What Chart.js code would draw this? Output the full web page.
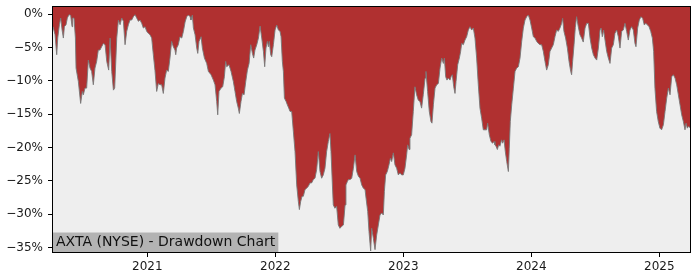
<!DOCTYPE html>
<html>
<head>
<meta charset="utf-8">
<script src="https://cdn.jsdelivr.net/npm/chart.js@4"></script>
<style>
html,body{margin:0;padding:0;background:#fff;}
canvas{display:block;}
</style>
</head>
<body>
<canvas id="c" width="700" height="280"></canvas>
<script>
// Dates as decimal years
const dates = [
2020.263,2020.279,2020.292,2020.300,2020.313,2020.323,2020.334,2020.344,2020.352,2020.365,
2020.375,2020.388,2020.401,2020.412,2020.417,2020.427,2020.438,2020.443,2020.461,2020.479,
2020.492,2020.500,2020.513,2020.526,2020.539,2020.552,2020.565,2020.578,2020.591,2020.604,
2020.617,2020.630,2020.643,2020.657,2020.670,2020.683,2020.698,2020.709,2020.722,2020.735,
2020.745,2020.761,2020.774,2020.787,2020.800,2020.813,2020.826,2020.839,2020.852,2020.865,
2020.878,2020.891,2020.904,2020.917,2020.930,2020.943,2020.956,2020.969,2020.982,2020.995,
2021.008,2021.021,2021.034,2021.047,
2021.060,2021.073,2021.086,2021.099,2021.112,2021.125,2021.138,2021.151,2021.164,2021.177,
2021.190,2021.203,2021.216,2021.222,2021.229,2021.242,2021.255,2021.269,2021.282,2021.295,
2021.308,2021.321,2021.334,2021.341,2021.352,2021.360,2021.373,2021.386,2021.394,2021.404,
2021.420,2021.430,2021.446,2021.464,2021.477,2021.498,2021.516,2021.529,2021.542,2021.550,
2021.560,2021.576,2021.589,2021.602,2021.612,2021.620,2021.638,2021.654,2021.672,2021.685,
2021.698,2021.711,2021.719,2021.732,2021.743,2021.756,2021.769,2021.782,2021.795,2021.808,
2021.821,2021.831,2021.841,2021.855,2021.868,2021.881,
2021.894,2021.907,2021.917,2021.927,2021.938,2021.946,2021.953,2021.964,2021.972,2021.985,
2021.998,2022.011,2022.024,2022.037,2022.045,2022.055,2022.063,2022.071,2022.084,2022.094,
2022.105,2022.115,2022.128,2022.141,2022.154,2022.167,2022.180,2022.188,2022.198,2022.209,
2022.219,2022.232,2022.245,2022.258,2022.271,2022.284,2022.297,2022.310,2022.323,2022.336,
2022.349,2022.362,2022.375,2022.388,2022.401,2022.414,2022.427,2022.435,2022.446,2022.453,
2022.466,2022.479,2022.492,2022.505,2022.519,2022.532,2022.545,2022.552,2022.563,2022.571,
2022.584,2022.597,2022.610,2022.623,2022.636,2022.649,2022.662,2022.675,2022.688,2022.701,
2022.709,2022.722,2022.732,2022.745,2022.753,2022.766,2022.779,2022.792,2022.805,2022.818,
2022.831,2022.844,2022.852,2022.862,2022.875,2022.888,2022.899,2022.909,2022.922,2022.935,
2022.948,2022.961,2022.974,2022.987,2023.000,2023.013,2023.026,2023.034,2023.045,2023.052,
2023.065,2023.078,2023.091,2023.104,2023.117,2023.130,2023.143,2023.156,2023.170,2023.177,
2023.190,2023.203,2023.216,2023.224,2023.235,2023.248,2023.261,2023.274,2023.287,2023.300,
2023.313,2023.321,2023.331,2023.341,2023.352,2023.365,2023.373,2023.383,2023.394,2023.404,
2023.412,2023.425,2023.438,2023.448,2023.456,2023.469,2023.482,2023.495,2023.508,
2023.521,2023.534,2023.547,2023.560,2023.573,2023.586,2023.599,2023.612,2023.625,2023.638,
2023.651,2023.659,2023.672,2023.685,2023.698,2023.709,2023.716,2023.724,2023.735,2023.745,
2023.755,2023.768,2023.776,2023.787,2023.797,2023.808,2023.821,2023.828,2023.836,2023.847,
2023.860,2023.873,2023.886,2023.899,2023.912,2023.925,2023.938,2023.951,2023.964,2023.977,
2023.990,2024.003,2024.016,2024.029,2024.042,2024.055,2024.068,2024.081,2024.094,2024.107,
2024.120,2024.133,2024.146,2024.159,2024.172,2024.185,2024.198,2024.211,2024.224,2024.237,
2024.245,2024.255,2024.268,2024.282,2024.295,2024.308,2024.315,2024.323,2024.334,2024.344,
2024.354,2024.367,2024.380,2024.393,2024.406,2024.420,2024.433,2024.446,2024.459,2024.472,
2024.485,2024.498,2024.511,2024.524,2024.537,2024.545,2024.555,2024.565,2024.576,2024.589,
2024.602,2024.615,2024.628,2024.641,2024.654,2024.667,2024.680,2024.693,2024.706,2024.719,
2024.732,2024.745,2024.758,2024.771,2024.784,2024.797,2024.810,2024.818,2024.831,2024.844,
2024.857,2024.870,2024.883,2024.894,2024.909,2024.920,2024.933,2024.946,2024.956,2024.966,
2024.979,2024.992,2025.005,2025.018,2025.032,2025.045,2025.058,2025.071,2025.084,2025.097,
2025.110,2025.123,2025.136,2025.149,2025.162,2025.175,2025.188,2025.201,2025.209,2025.219,
2025.227,2025.240
];
// Drawdown in percent
const drawdown = [
-1.9,-3.1,-6.1,-3.6,-1.6,-0.6,-2.4,-3.6,-1.9,-1.6,
-0.6,-0.1,-0.2,-1.9,-0.6,-0.6,-3.6,-8.1,-10.1,-13.4,
-11.6,-12.1,-11.1,-11.1,-6.9,-8.1,-8.6,-10.6,-8.1,-7.1,
-5.4,-5.4,-4.9,-4.4,-4.6,-7.1,-8.4,-3.6,-8.6,-11.4,
-11.1,-3.6,-0.9,-1.6,-0.6,-1.1,-4.6,-2.6,-1.6,-0.9,
-0.9,-0.4,-0.1,-0.6,-1.1,-0.9,-1.4,-2.1,-1.9,-2.6,
-2.9,-3.1,-3.6,-6.1,
-8.5,-11.6,-10.4,-10.6,-10.6,-11.9,-9.6,-8.4,-8.6,-6.6,
-4.1,-4.9,-5.4,-6.1,-5.1,-4.6,-3.4,-3.6,-2.6,-1.2,
-0.4,-0.15,-0.4,-0.9,-0.15,-2.1,-3.1,-5.1,-5.9,-4.1,
-3.4,-5.1,-6.6,-7.4,-8.6,-9.1,-9.9,-10.6,-13.1,-15.1,
-11.6,-11.1,-10.9,-9.4,-7.1,-7.9,-7.6,-8.6,-10.1,-11.6,
-13.1,-14.1,-14.9,-13.1,-11.9,-12.1,-10.1,-8.4,-7.4,-4.6,
-5.9,-6.6,-5.4,-4.6,-3.6,-1.8,
-3.6,-5.6,-7.9,-5.1,-4.1,-4.9,-4.1,-6.1,-6.4,-4.6,
-2.4,-1.65,-2.4,-2.6,-3.4,-7.1,-8.6,-12.6,-13.1,-13.6,
-14.1,-14.6,-14.6,-17.6,-20.6,-25.6,-28.1,-29.3,-28.1,-27.3,
-27.3,-26.3,-26.1,-25.8,-25.3,-25.3,-24.8,-24.6,-23.3,-20.6,
-23.6,-24.6,-24.1,-23.1,-20.6,-19.1,-17.9,-20.6,-25.6,-28.6,
-29.1,-28.8,-31.6,-32.1,-31.8,-31.6,-28.6,-25.6,-25.1,-24.8,
-24.8,-24.6,-23.1,-21.1,-23.6,-24.3,-24.6,-25.6,-26.1,-26.3,
-27.6,-29.6,-32.6,-35.5,-32.1,-33.6,-35.3,-33.1,-31.6,-30.1,
-29.8,-30.1,-26.6,-24.1,-23.6,-22.6,-21.6,-22.1,-20.8,-22.6,
-23.1,-24.1,-23.8,-24.1,-24.1,-23.1,-21.1,-19.6,-20.3,-18.6,
-18.1,-14.6,-10.9,-12.1,-12.9,-13.1,-14.1,-12.1,-9.6,-8.6,
-11.6,-14.6,-16.1,-16.35,-13.6,-11.1,-10.6,-10.4,-8.1,-6.6,
-7.4,-6.6,-9.4,-9.9,-9.6,-9.9,-9.4,-9.1,-10.9,-11.9,
-10.1,-7.6,-6.6,-5.6,-4.4,-4.6,-3.9,-3.4,-2.4,
-1.9,-2.4,-2.1,-3.6,-6.6,-10.6,-14.1,-15.6,-17.35,-17.35,
-17.35,-16.35,-18.1,-19.1,-19.35,-19.1,-19.6,-19.8,-20.3,-19.6,
-19.8,-18.85,-19.35,-18.85,-20.6,-22.1,-23.6,-20.1,-16.1,-13.6,
-11.1,-8.6,-8.1,-7.9,-6.6,-4.1,-2.1,-0.9,-0.4,-0.15,
-0.9,-2.1,-3.4,-3.6,-4.1,-4.4,-4.6,-4.6,-5.6,-7.1,
-8.4,-7.6,-5.6,-5.1,-4.6,-3.4,-2.4,-2.6,-2.1,-1.4,
-0.65,-2.6,-3.6,-5.1,-7.1,-8.6,-9.1,-7.1,-4.6,-2.0,
-0.4,-1.9,-3.1,-3.6,-4.2,-2.1,-1.4,-1.4,-3.6,-5.1,
-6.1,-6.6,-6.9,-5.1,-2.4,-2.1,-3.4,-2.4,-3.9,-5.6,
-6.6,-7.4,-5.1,-4.6,-2.9,-2.4,-3.4,-5.1,-2.6,-2.4,
-1.4,-2.6,-3.9,-2.4,-1.9,-2.4,-4.4,-4.9,-2.1,-0.9,
-0.4,-0.65,-1.65,-1.4,-1.65,-1.9,-2.6,-3.6,-5.6,-11.1,
-14.6,-16.1,-17.1,-17.35,-16.6,-14.6,-12.6,-11.1,-12.1,-9.4,
-9.1,-9.6,-10.6,-12.1,-13.6,-15.1,-16.1,-17.35,-16.35,-17.1,
-16.85,-17.0
];
const yTicks = [-35,-30,-25,-20,-15,-10,-5,0];
const xTicks = [2021,2022,2023,2024,2025];
const titleText = 'AXTA (NYSE) - Drawdown Chart';

const points = dates.map((d,i)=>({x:d, y:drawdown[i]}));

const decor = {
  id:'decor',
  beforeDatasetsDraw(chart){
    const {ctx, chartArea:a} = chart;
    ctx.save();
    ctx.fillStyle = '#eeeeee';
    ctx.fillRect(a.left, a.top, a.right-a.left, a.bottom-a.top);
    ctx.restore();
  },
  afterDatasetsDraw(chart){
    const {ctx, chartArea:a} = chart;
    ctx.save();
    ctx.font = '14px "DejaVu Sans"';
    const w = ctx.measureText(titleText).width;
    ctx.fillStyle = '#b3b3b3';
    ctx.fillRect(a.left, a.bottom-19.5, w+6, 19.5);
    ctx.fillStyle = '#111';
    ctx.textBaseline = 'middle';
    ctx.textAlign = 'left';
    ctx.fillText(titleText, a.left+3, a.bottom-9.5);
    ctx.strokeStyle = '#000';
    ctx.lineWidth = 1;
    ctx.strokeRect(Math.round(a.left)-0.5, Math.round(a.top)-0.5, Math.round(a.right-a.left)+1, Math.round(a.bottom-a.top)+1);
    ctx.restore();
  }
};

new Chart(document.getElementById('c'), {
  type:'line',
  data:{datasets:[{
    data:points,
    fill:'end',
    backgroundColor:'#b03030',
    borderColor:'rgba(120,120,120,0.9)',
    borderWidth:1,
    pointRadius:0,
    tension:0
  }]},
  options:{
    responsive:false,
    devicePixelRatio:1,
    animation:false,
    layout:{padding:{top:7,right:10,left:0,bottom:0}},
    plugins:{legend:{display:false},tooltip:{enabled:false},title:{display:false}},
    scales:{
      x:{
        type:'linear',
        min:2020.263, max:2025.240,
        afterBuildTicks(s){ s.ticks = xTicks.map(v=>({value:v})); },
        afterFit(s){ s.height = 28; s.paddingLeft = 0; s.paddingRight = 0; },
        border:{display:false},
        grid:{drawOnChartArea:false, drawTicks:true, tickLength:5, color:'#000', lineWidth:1},
        ticks:{color:'#1a1a1a', font:{family:'"DejaVu Sans"', size:12}, padding:3, maxRotation:0, autoSkip:false,
          callback:v=>String(v)}
      },
      y:{
        type:'linear',
        min:-35.65, max:1.05,
        afterBuildTicks(s){ s.ticks = yTicks.map(v=>({value:v})); },
        afterFit(s){ s.width = 53; s.paddingTop = 0; s.paddingBottom = 0; },
        border:{display:false},
        grid:{drawOnChartArea:false, drawTicks:true, tickLength:5, color:'#000', lineWidth:1},
        ticks:{color:'#1a1a1a', font:{family:'"DejaVu Sans"', size:12}, padding:5, autoSkip:false,
          callback:v=>(v<0?'\u2212':'')+Math.abs(v)+'%'}
      }
    }
  },
  plugins:[decor]
});
</script>
</body>
</html>
